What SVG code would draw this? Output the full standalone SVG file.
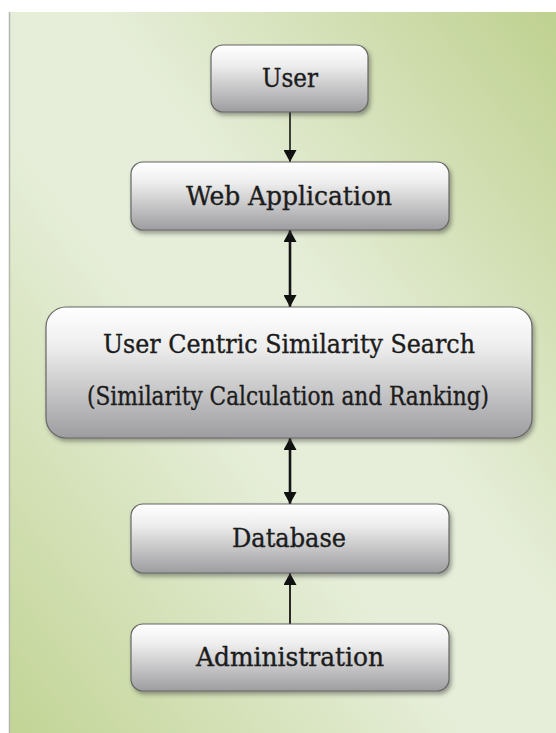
<svg xmlns="http://www.w3.org/2000/svg" width="556" height="733" viewBox="0 0 556 733">
  <defs>
    <linearGradient id="bg" x1="1" y1="0" x2="0" y2="1">
      <stop offset="0" stop-color="#bfd190"/>
      <stop offset="0.42" stop-color="#e6eed9"/>
      <stop offset="0.58" stop-color="#e6eed9"/>
      <stop offset="1" stop-color="#c2d495"/>
    </linearGradient>
    <linearGradient id="nodeFill" x1="0" y1="0" x2="0" y2="1">
      <stop offset="0" stop-color="#ffffff"/>
      <stop offset="0.3" stop-color="#eeeeee"/>
      <stop offset="1" stop-color="#9d9da0"/>
    </linearGradient>
    <filter id="shadow" x="-10%" y="-10%" width="125%" height="135%">
      <feDropShadow dx="2" dy="3" stdDeviation="2" flood-color="#333333" flood-opacity="0.45"/>
    </filter>
    <marker id="head" viewBox="0 0 12 13" refX="12" refY="6.5" markerWidth="12" markerHeight="13" markerUnits="userSpaceOnUse" orient="auto">
      <path d="M0,0 L12,6.5 L0,13 Z" fill="#111111"/>
    </marker>
    <marker id="tail" viewBox="0 0 12 13" refX="0" refY="6.5" markerWidth="12" markerHeight="13" markerUnits="userSpaceOnUse" orient="auto">
      <path d="M12,0 L0,6.5 L12,13 Z" fill="#111111"/>
    </marker>
    <style>
      .box { fill: url(#nodeFill); stroke: #666666; stroke-width: 1.2; filter: url(#shadow); }
      .label { font-family: 'DejaVu Serif Condensed', 'DejaVu Serif', 'Liberation Serif', serif; font-size: 26px; fill: #1c1c1c; stroke: #1c1c1c; stroke-width: 0.35; text-anchor: middle; }
      .conn { stroke: #151515; fill: none; }
    </style>
  </defs>

  <rect id="panel" x="9" y="12" width="547" height="721" fill="url(#bg)"/>
  <line x1="9.5" y1="12" x2="9.5" y2="733" stroke="#b5b9ad" stroke-width="1.5"/>

  <g id="connectors">
    <line class="conn" x1="290" y1="112" x2="290" y2="162" stroke-width="1.6" marker-end="url(#head)"/>
    <line class="conn" x1="290" y1="230" x2="290" y2="307" stroke-width="2.6" marker-start="url(#tail)" marker-end="url(#head)"/>
    <line class="conn" x1="290" y1="438" x2="290" y2="504" stroke-width="2.6" marker-start="url(#tail)" marker-end="url(#head)"/>
    <line class="conn" x1="290" y1="624" x2="290" y2="573" stroke-width="1.8" marker-end="url(#head)"/>
  </g>

  <g id="user">
    <rect class="box" x="211" y="45" width="157" height="67" rx="12"/>
    <text class="label" x="290" y="87" textLength="56" lengthAdjust="spacingAndGlyphs">User</text>
  </g>
  <g id="web-application">
    <rect class="box" x="131" y="162" width="318" height="68" rx="12"/>
    <text class="label" x="289" y="205" textLength="206" lengthAdjust="spacingAndGlyphs">Web Application</text>
  </g>
  <g id="similarity-search">
    <rect class="box" x="46" y="307" width="486" height="131" rx="20"/>
    <text class="label" x="289" y="353" textLength="372" lengthAdjust="spacingAndGlyphs">User Centric Similarity Search</text>
    <text class="label" x="288" y="405" textLength="402" lengthAdjust="spacingAndGlyphs">(Similarity Calculation and Ranking)</text>
  </g>
  <g id="database">
    <rect class="box" x="131" y="504" width="318" height="69" rx="12"/>
    <text class="label" x="289" y="547" textLength="114" lengthAdjust="spacingAndGlyphs">Database</text>
  </g>
  <g id="administration">
    <rect class="box" x="131" y="624" width="318" height="67" rx="12"/>
    <text class="label" x="290" y="666" textLength="188" lengthAdjust="spacingAndGlyphs">Administration</text>
  </g>
</svg>
